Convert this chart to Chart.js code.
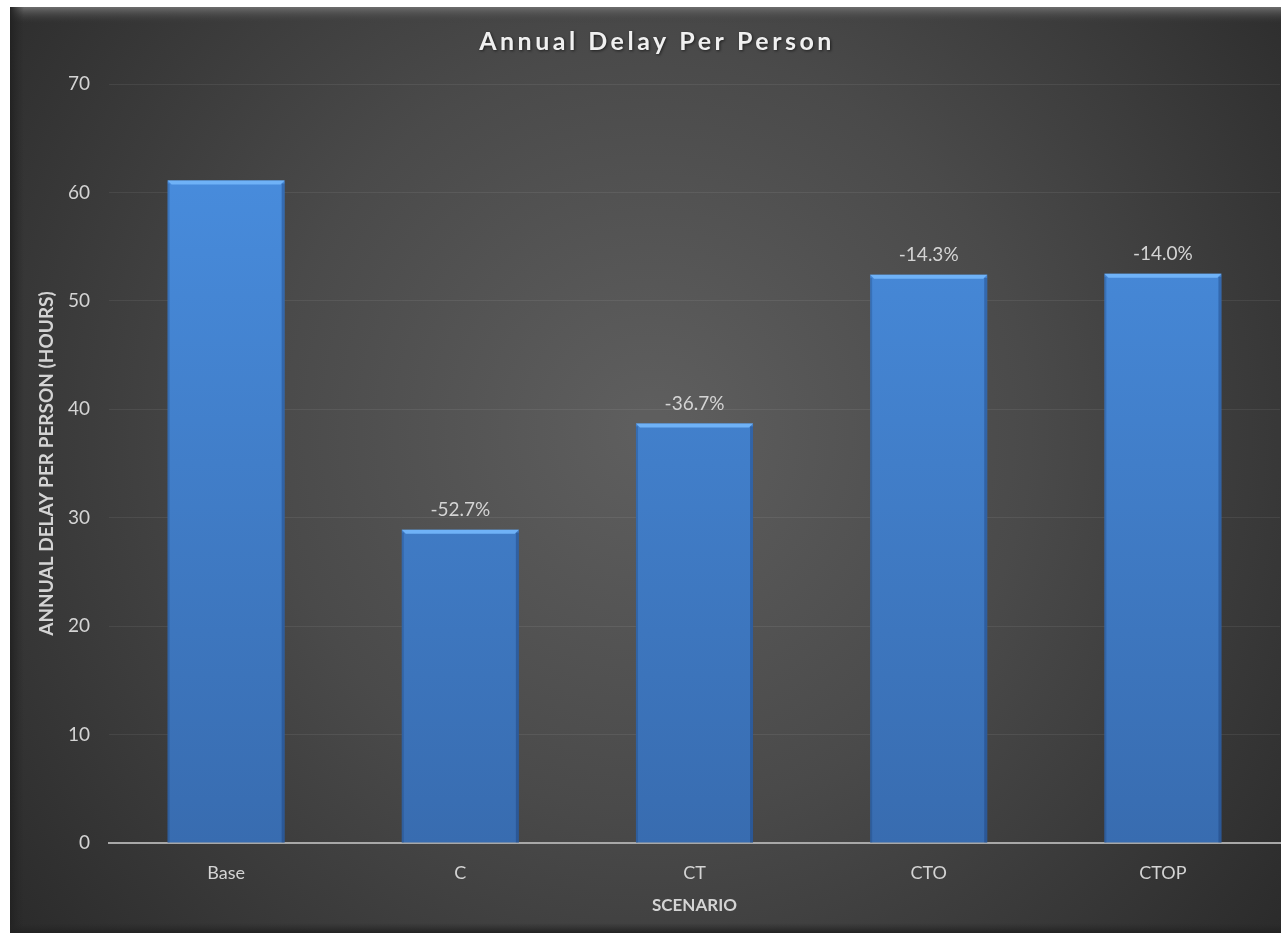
<!DOCTYPE html>
<html>
<head>
<meta charset="utf-8">
<script src="https://cdn.jsdelivr.net/npm/chart.js@4.4.1/dist/chart.umd.min.js"></script>
<style>
  html, body { margin: 0; padding: 0; background: #ffffff; }
  #wrap { width: 1281px; height: 937px; position: relative; }
</style>
</head>
<body>
<div id="wrap"><canvas id="c" width="1281" height="937"></canvas></div>
<script>
const categories = ['Base', 'C', 'CT', 'CTO', 'CTOP'];
const delayHours = [61.1, 28.9, 38.7, 52.4, 52.5];
const changeLabels = ['', '-52.7%', '-36.7%', '-14.3%', '-14.0%'];
const chartTitle = 'Annual Delay Per Person';
const yAxisTitle = 'ANNUAL DELAY PER PERSON (HOURS)';
const xAxisTitle = 'SCENARIO';

const FONT = 'Lato, "Open Sans", "DejaVu Sans", sans-serif';

const panelPlugin = {
  id: 'panel',
  beforeDraw(chart) {
    const ctx = chart.ctx;
    const W = chart.width, H = chart.height;
    ctx.save();
    ctx.fillStyle = '#ffffff';
    ctx.fillRect(0, 0, W, H);
    const x0 = 10, y0 = 7, x1 = W, y1 = 933;
    const g = ctx.createRadialGradient(650, 430, 20, 650, 430, 820);
    g.addColorStop(0, '#5e5e5e');
    g.addColorStop(0.45, '#4a4a4a');
    g.addColorStop(1, '#2a2a2a');
    ctx.fillStyle = g;
    ctx.fillRect(x0, y0, x1 - x0, y1 - y0);
    const tb = ctx.createLinearGradient(0, y0, 0, y0 + 16);
    tb.addColorStop(0, '#6e6e6e');
    tb.addColorStop(1, 'rgba(60,60,60,0)');
    ctx.fillStyle = tb;
    ctx.fillRect(x0, y0, x1 - x0, 16);
    const lb = ctx.createLinearGradient(x0, 0, x0 + 14, 0);
    lb.addColorStop(0, '#222222');
    lb.addColorStop(1, 'rgba(40,40,40,0)');
    ctx.fillStyle = lb;
    ctx.fillRect(x0, y0, 14, y1 - y0);
    const bb = ctx.createLinearGradient(0, y1 - 10, 0, y1);
    bb.addColorStop(0, 'rgba(40,40,40,0)');
    bb.addColorStop(1, '#222222');
    ctx.fillStyle = bb;
    ctx.fillRect(x0, y1 - 10, x1 - x0, 10);

    // chart title (letter-spaced, with soft shadow)
    ctx.font = 'bold 25px ' + FONT;
    if ('letterSpacing' in ctx) ctx.letterSpacing = '3.5px';
    ctx.textAlign = 'center';
    ctx.textBaseline = 'middle';
    ctx.shadowColor = 'rgba(0,0,0,0.6)';
    ctx.shadowBlur = 3;
    ctx.shadowOffsetX = 1;
    ctx.shadowOffsetY = 1;
    ctx.fillStyle = '#f0f0f0';
    ctx.fillText(chartTitle, 657, 42);
    ctx.restore();
  }
};

const barDecor = {
  id: 'barDecor',
  afterDatasetsDraw(chart) {
    const ctx = chart.ctx;
    const meta = chart.getDatasetMeta(0);
    ctx.save();
    meta.data.forEach((bar, i) => {
      const p = bar.getProps(['x', 'y', 'base', 'width'], true);
      const l = p.x - p.width / 2, r = p.x + p.width / 2;
      ctx.fillStyle = '#6fb2f7';
      ctx.beginPath();
      ctx.moveTo(l, p.y);
      ctx.lineTo(r, p.y);
      ctx.lineTo(r - 4, p.y + 4);
      ctx.lineTo(l + 4, p.y + 4);
      ctx.closePath();
      ctx.fill();
      ctx.fillStyle = 'rgba(20,50,100,0.35)';
      ctx.fillRect(r - 3, p.y + 3, 3, p.base - p.y - 3);
      ctx.fillStyle = 'rgba(20,50,100,0.25)';
      ctx.fillRect(l, p.y + 3, 2, p.base - p.y - 3);
      const txt = changeLabels[i];
      if (txt) {
        ctx.font = '19px ' + FONT;
        ctx.fillStyle = '#d4d4d4';
        ctx.textAlign = 'center';
        ctx.textBaseline = 'bottom';
        ctx.fillText(txt, p.x, p.y - 10);
      }
    });
    ctx.restore();
  }
};

new Chart(document.getElementById('c'), {
  type: 'bar',
  data: {
    labels: categories,
    datasets: [{
      data: delayHours,
      backgroundColor(ctx) {
        const ca = ctx.chart.chartArea;
        if (!ca) return '#4a8ddd';
        const g = ctx.chart.ctx.createLinearGradient(0, ca.top, 0, ca.bottom);
        g.addColorStop(0, '#4a90e2');
        g.addColorStop(1, '#386cb0');
        return g;
      },
      borderWidth: 0,
      barPercentage: 0.5,
      categoryPercentage: 1.0
    }]
  },
  options: {
    responsive: false,
    animation: false,
    events: [],
    layout: { padding: { left: 10, top: 84, right: 1, bottom: 4 } },
    plugins: {
      legend: { display: false },
      tooltip: { enabled: false },
      title: { display: false }
    },
    scales: {
      x: {
        grid: { display: false, drawTicks: false },
        border: { display: true, color: '#a8a8a8', width: 2 },
        ticks: { color: '#d4d4d4', font: { family: FONT, size: 18 }, padding: 19 },
        title: {
          display: true, text: xAxisTitle, color: '#d4d4d4',
          font: { family: FONT, size: 17, weight: 'bold' },
          padding: { top: 0, bottom: 17 }
        },
        afterFit(scale) { scale.height = 90; }
      },
      y: {
        min: 0, max: 70,
        ticks: { stepSize: 10, color: '#d4d4d4', font: { family: FONT, size: 19 }, padding: 19 },
        grid: { color: 'rgba(255,255,255,0.07)', drawTicks: false },
        border: { display: false },
        title: {
          display: true, text: yAxisTitle, color: '#d4d4d4',
          font: { family: FONT, size: 19, weight: 'bold' },
          padding: { top: 25, bottom: 0 }
        },
        afterFit(scale) { scale.width = 99; }
      }
    }
  },
  plugins: [panelPlugin, barDecor]
});
</script>
</body>
</html>
